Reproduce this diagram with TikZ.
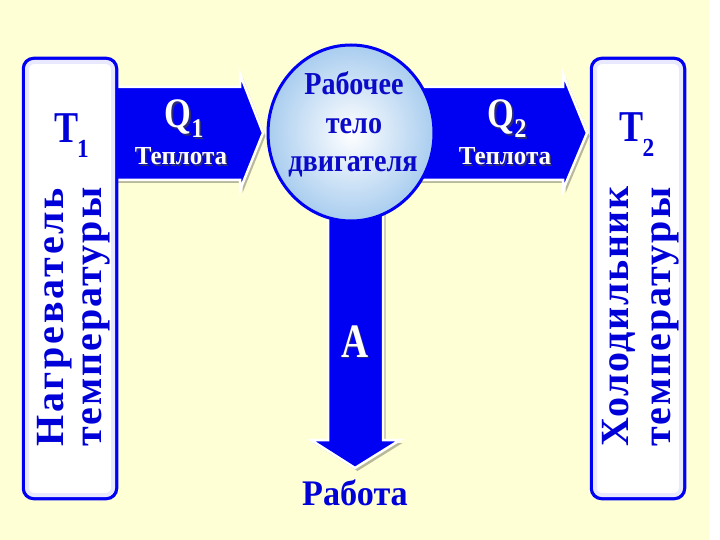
\documentclass[tikz,border=0pt]{standalone}
\usepackage{fontspec}
\setmainfont{Liberation Serif}
\usetikzlibrary{shapes.geometric}
\definecolor{bg}{HTML}{FFFFD6}
\definecolor{arrblue}{HTML}{0000F2}
\definecolor{txtblue}{HTML}{0000D8}
\definecolor{bodytxt}{HTML}{0A0AC8}
\definecolor{ballout}{HTML}{A9CDEF}
\newcommand\fs[1]{\fontsize{#1}{#1}\selectfont}
\newcommand\cnd[2]{\scalebox{#1}[1]{#2}}
\begin{document}
\begin{tikzpicture}[x=1pt,y=-1pt,
  bigarrow/.style={fill=arrblue,draw=white,line width=2.5pt,line join=miter},
  arrshadow/.style={fill=black,opacity=0.28},
  tbox/.style={rectangle,rounded corners=10pt,draw=arrblue,line width=3.5pt,fill=white,minimum width=93pt,minimum height=440pt},
  wtext/.style={text=white,font=\bfseries,anchor=base,inner sep=0pt},
  stext/.style={text=black!75,font=\bfseries,anchor=base,inner sep=0pt,opacity=0.7},
  btext/.style={text=txtblue,font=\bfseries,anchor=base,inner sep=0pt},
  vtext/.style={text=txtblue,rotate=90,anchor=base west,inner sep=0pt}]
\useasboundingbox (0,0) rectangle (720,540);
\fill[white] (0,0) rectangle (720,540);
\fill[bg] (0,0) rectangle (709,540);

% arrow shadows
\begin{scope}[shift={(2.5,3)}]
\fill[arrshadow] (100,87) -- (240,87) -- (240,74) -- (263,133) -- (240,190) -- (240,180) -- (100,180) -- cycle;
\fill[arrshadow] (400,87) -- (563,87) -- (563,74) -- (587,133) -- (563,190) -- (563,180) -- (400,180) -- cycle;
\fill[arrshadow] (328,180) -- (383,180) -- (383,440) -- (400,440) -- (355,468) -- (311,440) -- (328,440) -- cycle;
\end{scope}
% arrows
\draw[bigarrow] (100,87) -- (240,87) -- (240,74) -- (263,133) -- (240,190) -- (240,180) -- (100,180) -- cycle;
\draw[bigarrow] (400,87) -- (563,87) -- (563,74) -- (587,133) -- (563,190) -- (563,180) -- (400,180) -- cycle;
\draw[bigarrow] (328,180) -- (383,180) -- (383,440) -- (400,440) -- (355,468) -- (311,440) -- (328,440) -- cycle;

% boxes
\node[tbox] (heater) at (70,278.5) {};
\node[tbox] (cooler) at (638,278.5) {};
\draw[blue!9,line width=4pt,rounded corners=7pt] (27,62) rectangle (113,495);
\draw[blue!9,line width=4pt,rounded corners=7pt] (595,62) rectangle (681,495);

% body
\node[ellipse,minimum width=166pt,minimum height=176pt,draw=arrblue,line width=3pt,
      inner color=white,outer color=ballout] (body) at (351,133) {};

% texts in body
\node[btext,text=bodytxt,font=\bfseries\fs{32}] (b1) at (354,95) {\cnd{0.88}{Рабочее}};
\node[btext,text=bodytxt,font=\bfseries\fs{32}] (b2) at (354,134) {\cnd{0.88}{тело}};
\node[btext,text=bodytxt,font=\bfseries\fs{32}] (b3) at (353,172) {\cnd{0.88}{двигателя}};

% Q1
\node[stext,font=\bfseries\fs{42}] (q1s) at (185.5,129.5) {\cnd{0.82}{Q}\raisebox{-10pt}{\fs{27}\cnd{0.9}{1}}};
\node[wtext,font=\bfseries\fs{42}] (q1) at (184,128) {\cnd{0.82}{Q}\raisebox{-10pt}{\fs{27}\cnd{0.9}{1}}};
\node[stext,font=\bfseries\fs{26}] (t1s) at (182.5,166.5) {\cnd{0.96}{Теплота}};
\node[wtext,font=\bfseries\fs{26}] (t1) at (181,165) {\cnd{0.96}{Теплота}};
% Q2
\node[stext,font=\bfseries\fs{42}] (q2s) at (508.5,129.5) {\cnd{0.82}{Q}\raisebox{-10pt}{\fs{27}\cnd{0.9}{2}}};
\node[wtext,font=\bfseries\fs{42}] (q2) at (507,128) {\cnd{0.82}{Q}\raisebox{-10pt}{\fs{27}\cnd{0.9}{2}}};
\node[stext,font=\bfseries\fs{26}] (t2s) at (506.5,166.5) {\cnd{0.96}{Теплота}};
\node[wtext,font=\bfseries\fs{26}] (t2) at (505,165) {\cnd{0.96}{Теплота}};
% A
\node[stext,font=\bfseries\fs{48}] (as) at (356.5,358.5) {\cnd{0.78}{A}};
\node[wtext,font=\bfseries\fs{48}] (a) at (355,357) {\cnd{0.78}{A}};
\node[btext,font=\bfseries\fs{36}] (work) at (355,505) {\cnd{0.95}{Работа}};

% T labels
\node[btext,font=\bfseries\fs{44}] (T1) at (71.5,143) {\cnd{0.82}{T}\kern-1pt\raisebox{-15pt}{\fs{26}\cnd{0.9}{1}}};
\node[btext,font=\bfseries\fs{44}] (T2) at (637,142) {\cnd{0.82}{T}\kern-1pt\raisebox{-15pt}{\fs{26}\cnd{0.9}{2}}};

% vertical texts
\node[vtext,font=\bfseries\fs{40}\addfontfeature{LetterSpace=7}] (h1) at (63,447) {Нагреватель};
\node[vtext,font=\bfseries\fs{40}\addfontfeature{LetterSpace=5}] (h2) at (101,447) {температуры};
\node[vtext,font=\bfseries\fs{40}\addfontfeature{LetterSpace=4}] (c1) at (628,447) {Холодильник};
\node[vtext,font=\bfseries\fs{40}\addfontfeature{LetterSpace=5}] (c2) at (670,447) {температуры};
\end{tikzpicture}
\end{document}
